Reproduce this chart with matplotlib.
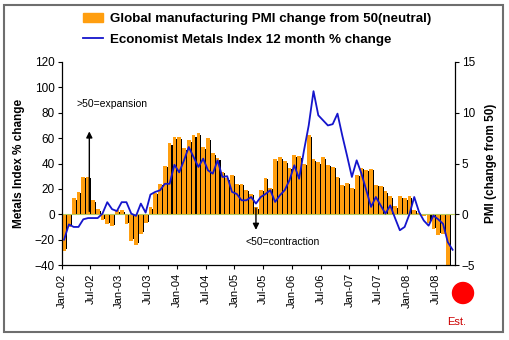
import matplotlib
matplotlib.use("Agg")
import matplotlib.pyplot as plt
import matplotlib.patches as mpatches
from matplotlib.lines import Line2D
import numpy as np

plt.rcParams['font.family'] = ['Liberation Sans', 'DejaVu Sans']

# Monthly data, Jan-2002 onwards
pmi_change = [
    -3.6, -1.3, 1.6, 2.2, 3.7, 3.7, 1.4, 0.5, -0.6, -1.0, -1.2, 0.4,
    0.4, -1.0, -2.6, -3.0, -1.9, -0.9, 0.7, 2.1, 3.0, 4.8, 7.0, 7.6,
    7.6, 6.5, 7.3, 7.8, 8.0, 6.6, 7.5, 6.0, 5.5, 4.2, 3.55, 3.9,
    3.0, 3.0, 2.4, 2.0, 0.7, 2.4, 3.6, 2.6, 5.4, 5.6, 5.2, 4.6,
    5.8, 5.7, 5.0, 7.8, 5.4, 5.1, 5.6, 4.9, 4.7, 3.7, 2.9, 3.1,
    2.6, 3.9, 4.6, 4.4, 4.5, 2.9, 2.8, 2.25, 1.75, 0.8, 1.75, 1.6,
    1.75, 0.45, 0.1, -0.2, -0.85, -1.5, -2.0, -1.9, -5.6,
]
metals_change = [
    -20, -8, -10, -10, -4, -3, -3, -3, 0.5, 9.5, 4, 2.5,
    9.5, 9.5, 0.5, -1.3, 8.4, 1.3, 15.5, 17.6, 18.9, 24, 24, 39,
    33, 42.5, 53, 45, 37.3, 43.8, 34.6, 32, 42.5, 29.4, 30, 17.6,
    16, 11, 11, 13.6, 8.4, 13.6, 16, 19, 9.7, 15, 19, 27,
    38.6, 28, 50, 70, 97, 78, 74, 70, 71, 79.3, 62, 46,
    29.4, 42.5, 32, 19, 5.8, 13.6, 7, 0.5, 7, -3, -12.6, -10,
    0, 13.6, 1.8, -5, -9, -1, -4, -7.5, -22, -28,
]
tick_labels = ["Jan-02", "Jul-02", "Jan-03", "Jul-03", "Jan-04", "Jul-04", "Jan-05",
               "Jul-05", "Jan-06", "Jul-06", "Jan-07", "Jul-07", "Jan-08", "Jul-08"]
left_ticks = [120, 100, 80, 60, 40, 20, 0, -20, -40]
right_ticks = [15, 10, 5, 0, -5]

W, H = 510, 340
fig = plt.figure(figsize=(W / 100, H / 100), dpi=100)
ax = fig.add_axes([61.7 / W, 1 - 265 / H, (455 - 61.7) / W, (265 - 62) / H])
ax2 = ax.twinx()

x_bar = np.arange(len(pmi_change)) + 0.5
x_line = np.arange(len(metals_change)) + 0.5

# PMI columns with a dark drop shadow on the right-hand side
orange = '#FF9E0F'
bw = 0.78
ax2.bar(x_bar + 0.22, np.array(pmi_change) - np.sign(pmi_change) * 0.15, width=bw,
        color='black', linewidth=0, zorder=1)
ax2.bar(x_bar, pmi_change, width=bw, color=orange, linewidth=0, zorder=2,
        label='Global manufacturing PMI change from 50(neutral)')
ax2.axhline(0, color='#b8c85a', lw=0.8, zorder=3)

ax.plot(x_line, metals_change, color='#1515CC', lw=1.3, zorder=5,
        label='Economist Metals Index 12 month % change')

ax.set_zorder(ax2.get_zorder() + 1)
ax.patch.set_visible(False)

ax.set_xlim(0, 82)
ax.set_ylim(-40, 120)
ax2.set_ylim(-5, 15)
ax.set_yticks(left_ticks)
ax2.set_yticks(right_ticks)
ax.set_xticks(np.arange(len(tick_labels)) * 6)
ax.set_xticklabels(tick_labels, rotation=90, fontsize=8)
ax.tick_params(axis='y', labelsize=8.5, length=3, width=0.8, direction='out', pad=2)
ax.tick_params(axis='x', length=3, width=0.8, direction='out', pad=3)
ax2.tick_params(axis='y', labelsize=8.5, length=3, width=0.8, direction='out', pad=2)

for a in (ax, ax2):
    a.spines['top'].set_visible(False)
    for s in a.spines.values():
        s.set_linewidth(0.9)
ax.spines['right'].set_visible(False)
ax2.spines['left'].set_visible(False)
ax2.spines['bottom'].set_visible(False)

ax.set_ylabel('Metals Index % change', fontsize=8.5, fontweight='bold', labelpad=7)
ax2.set_ylabel('PMI (change from 50)', fontsize=8.5, fontweight='bold', labelpad=7)

# Expansion / contraction annotations
ax.annotate('', xy=(5.76, 67.5), xytext=(5.76, 0),
            arrowprops=dict(arrowstyle='-|>', color='black', lw=1.0, mutation_scale=9))
ax.text(3.1, 86.6, '>50=expansion', fontsize=7.5, ha='left', va='center')
ax.annotate('', xy=(40.5, -14.5), xytext=(40.5, 7),
            arrowprops=dict(arrowstyle='-|>', color='black', lw=1.0, mutation_scale=9))
ax.text(38.4, -21.8, '<50=contraction', fontsize=7.5, ha='left', va='center')

# Legend
handles = [mpatches.Patch(color=orange, label='Global manufacturing PMI change from 50(neutral)'),
           Line2D([], [], color='#1515CC', lw=1.3, label='Economist Metals Index 12 month % change')]
fig.legend(handles=handles, loc='upper left', bbox_to_anchor=(74 / W, 1 - 4 / H),
           frameon=False, prop={'weight': 'bold', 'size': 9.6},
           handlelength=1.5, handleheight=0.65, handletextpad=0.5, labelspacing=0.63,
           borderpad=0.2)

# Estimate marker
fig.add_artist(mpatches.Circle((4.63, (H - 293) / 100), 0.105, transform=fig.dpi_scale_trans,
                               color='#FF0000', zorder=10))
fig.text(457 / W, 1 - 321.7 / H, 'Est.', color='#CC0000', fontsize=8, ha='center', va='center')

# Outer frame
fig.add_artist(mpatches.Rectangle((4 / W, 1 - 332 / H), 499 / W, 327 / H,
                                  transform=fig.transFigure, fill=False,
                                  edgecolor='#6e6e6e', lw=1.5))

fig.savefig('out.png', dpi=100)
